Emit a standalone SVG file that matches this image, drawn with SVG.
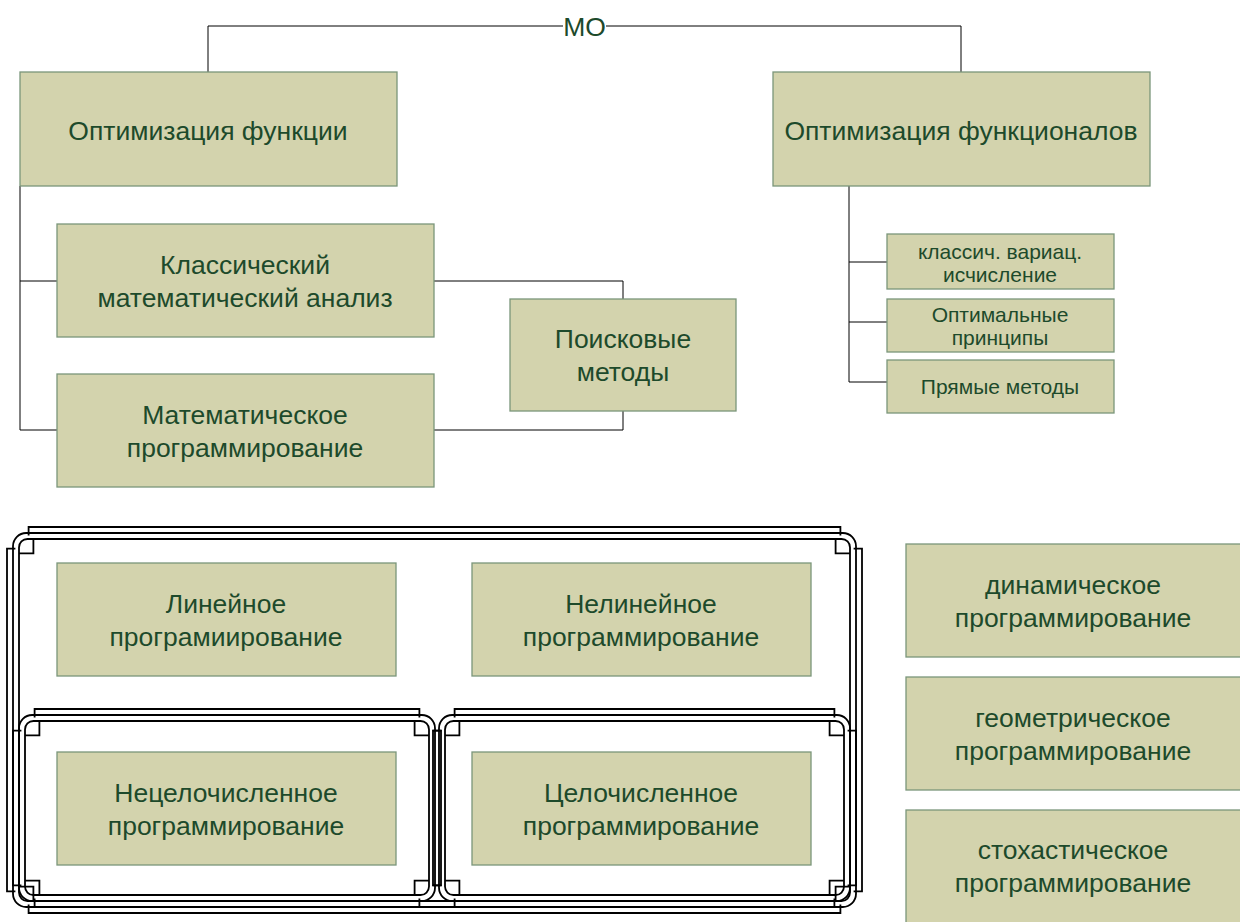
<svg xmlns="http://www.w3.org/2000/svg" width="1240" height="922" viewBox="0 0 1240 922">
<style>
.box{fill:#d3d3ad;stroke:#7a967a;stroke-width:1.3}
.t{font-family:"Liberation Sans",Arial,sans-serif;font-size:26.5px;fill:#1d4a2b;text-anchor:middle}
.s{font-family:"Liberation Sans",Arial,sans-serif;font-size:21px;fill:#1d4a2b;text-anchor:middle}
.c{fill:none;stroke:#000;stroke-width:1}
.f{fill:none;stroke:#000;stroke-width:1.8}
</style>
<defs>
<g id="fc" fill="none" stroke="#000" stroke-width="1.5">
<path d="M25 0H18V7M0 25V18H7"/>
<path d="M25 5H16A11 11 0 0 0 5 16V25"/>
<path d="M25 10H17A7 7 0 0 0 10 17V25"/>
<path d="M22 10V22H10"/>
</g>
</defs>
<rect width="1240" height="922" fill="#fff"/>
<g id="connectors" class="c">
<path d="M208 72V26H563M606 26H961V72"/>
<path d="M20 186V430H57M20 281H57"/>
<path d="M434 281H623V299M434 430H623V411"/>
<path d="M849 186V382H887M849 262H887M849 322H887"/>
</g>
<text id="mo" class="t" x="584.5" y="36">МО</text>
<g id="n1"><rect class="box" x="20" y="72" width="377" height="114"/><text class="t" x="208" y="140">Оптимизация функции</text></g>
<g id="n2"><rect class="box" x="773" y="72" width="377" height="114"/><text class="t" x="961" y="140">Оптимизация функционалов</text></g>
<g id="n3"><rect class="box" x="57" y="224" width="377" height="113"/><text class="t" x="245" y="273.5">Классический</text><text class="t" x="245" y="306.5">математический анализ</text></g>
<g id="n4"><rect class="box" x="57" y="374" width="377" height="113"/><text class="t" x="245" y="423.5">Математическое</text><text class="t" x="245" y="456.5">программирование</text></g>
<g id="n5"><rect class="box" x="510" y="299" width="226" height="112"/><text class="t" x="623" y="348">Поисковые</text><text class="t" x="623" y="381">методы</text></g>
<g id="n6"><rect class="box" x="887" y="234" width="227" height="55"/><text class="s" x="1000" y="259">классич. вариац.</text><text class="s" x="1000" y="282">исчисление</text></g>
<g id="n7"><rect class="box" x="887" y="299" width="227" height="53"/><text class="s" x="1000" y="321.5">Оптимальные</text><text class="s" x="1000" y="344.5">принципы</text></g>
<g id="n8"><rect class="box" x="887" y="360" width="227" height="53"/><text class="s" x="1000" y="394">Прямые методы</text></g>
<g id="frames">
<use href="#fc" transform="translate(7,527) scale(1.2)"/><use href="#fc" transform="translate(862,527) scale(-1.2,1.2)"/><use href="#fc" transform="translate(7,913) scale(1.2,-1.2)"/><use href="#fc" transform="translate(862,913) scale(-1.2,-1.2)"/>
<path class="f" d="M37 527H832M37 533H832M37 539H832M37 913H832M37 907H832M37 901H832M7 557V883M13 557V883M19 557V883M862 557V883M856 557V883M850 557V883"/>
<use href="#fc" transform="translate(13,709) scale(1.2)"/><use href="#fc" transform="translate(441,709) scale(-1.2,1.2)"/><use href="#fc" transform="translate(13,907) scale(1.2,-1.2)"/><use href="#fc" transform="translate(441,907) scale(-1.2,-1.2)"/>
<path class="f" d="M43 709H411M43 715H411M43 721H411M43 907H411M43 901H411M43 895H411M13 739V877M19 739V877M25 739V877M441 739V877M435 739V877M429 739V877"/>
<use href="#fc" transform="translate(433,709) scale(1.2)"/><use href="#fc" transform="translate(856,709) scale(-1.2,1.2)"/><use href="#fc" transform="translate(433,907) scale(1.2,-1.2)"/><use href="#fc" transform="translate(856,907) scale(-1.2,-1.2)"/>
<path class="f" d="M463 709H826M463 715H826M463 721H826M463 907H826M463 901H826M463 895H826M433 739V877M439 739V877M445 739V877M856 739V877M850 739V877M844 739V877"/>
</g>
<g id="n9"><rect class="box" x="57" y="563" width="339" height="113"/><text class="t" x="226" y="612.5">Линейное</text><text class="t" x="226" y="645.5">програмиирование</text></g>
<g id="n10"><rect class="box" x="472" y="563" width="339" height="113"/><text class="t" x="641" y="612.5">Нелинейное</text><text class="t" x="641" y="645.5">программирование</text></g>
<g id="n11"><rect class="box" x="57" y="752" width="339" height="113"/><text class="t" x="226" y="801.5">Нецелочисленное</text><text class="t" x="226" y="834.5">программирование</text></g>
<g id="n12"><rect class="box" x="472" y="752" width="339" height="113"/><text class="t" x="641" y="801.5">Целочисленное</text><text class="t" x="641" y="834.5">программирование</text></g>
<g id="n13"><rect class="box" x="906" y="544" width="340" height="113"/><text class="t" x="1073" y="593.5">динамическое</text><text class="t" x="1073" y="626.5">программирование</text></g>
<g id="n14"><rect class="box" x="906" y="677" width="340" height="113"/><text class="t" x="1073" y="726.5">геометрическое</text><text class="t" x="1073" y="759.5">программирование</text></g>
<g id="n15"><rect class="box" x="906" y="810" width="340" height="113"/><text class="t" x="1073" y="859">стохастическое</text><text class="t" x="1073" y="892">программирование</text></g>
</svg>
